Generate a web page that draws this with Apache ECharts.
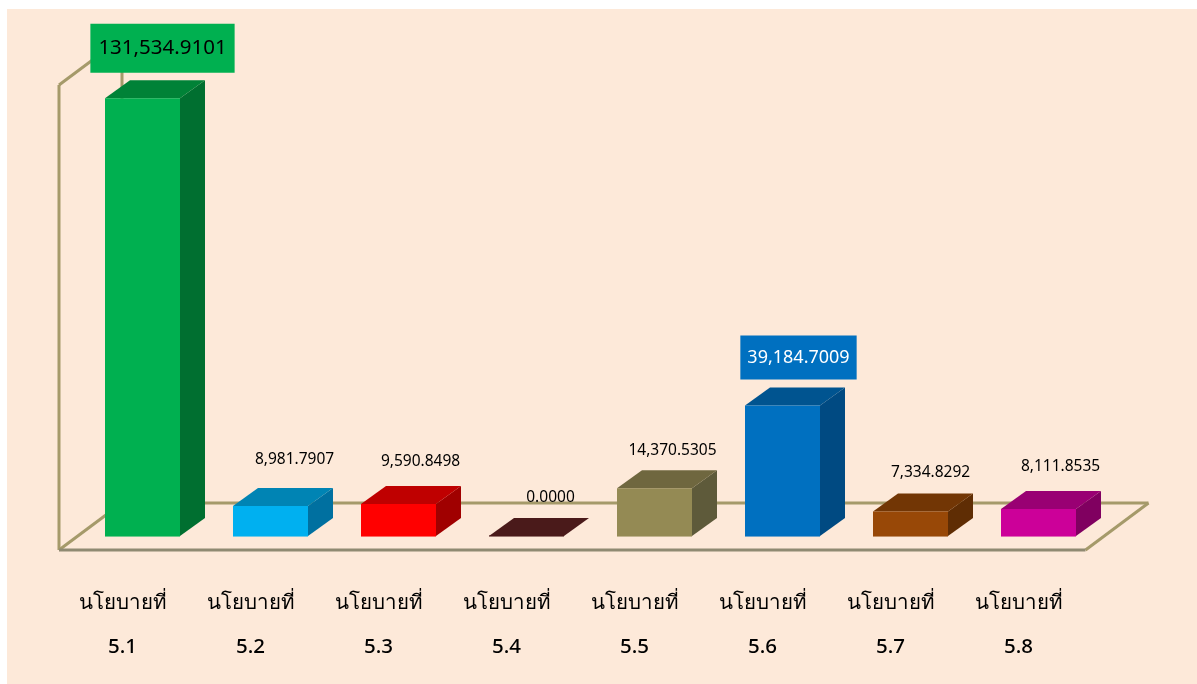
<!DOCTYPE html>
<html>
<head>
<meta charset="utf-8">
<title>chart</title>
<script src="https://cdn.jsdelivr.net/npm/echarts@6/dist/echarts.min.js"></script>
<style>
  html, body { margin: 0; padding: 0; background: #fff; }
  #main { width: 1197px; height: 684px; }
</style>
</head>
<body>
<div id="main"></div>
<script>
var categories = ['นโยบายที่\n5.1', 'นโยบายที่\n5.2', 'นโยบายที่\n5.3', 'นโยบายที่\n5.4',
  'นโยบายที่\n5.5', 'นโยบายที่\n5.6', 'นโยบายที่\n5.7', 'นโยบายที่\n5.8'];
var values = [131534.9101, 8981.7907, 9590.8498, 0, 14370.5305, 39184.7009, 7334.8292, 8111.8535];

// front, top, side
var frontColors = ['#00b050', '#00b0f0', '#ff0000', '#4a1a1a', '#948a54', '#0070c0', '#984807', '#cc0099'];
var topColors = ['#008237', '#0084b4', '#bf0000', '#4a1a1a', '#6f673f', '#005490', '#723605', '#990073'];
var sideColors = ['#006f30', '#0070a0', '#a00000', '#4a1a1a', '#5e5a3a', '#004a82', '#5f2d04', '#800060'];

// hand placed labels: x and y distance from the front face's top centre
var labelDx = [20, 24, 22, 24, 18, 16, 20, 22];
var labelDy = [-50, -47, -42, -38, -38, -48, -39, -42];
var labelBox = ['#00b050', null, null, null, null, '#0070c0', null, null];
var labelFill = ['#000', '#000', '#000', '#000', '#000', '#fff', '#000', '#000'];
var labelSize = [20.5, 15.5, 15.5, 15.5, 15.5, 18, 15.5, 15.5];
var labelPad = [[14, 8], 0, 0, 0, 0, [13, 7], 0, 0];

var FONT = '"Noto Sans", Tahoma, sans-serif';
var DEPTH_X = 25, DEPTH_Y = 18;

function fmt(v) {
  return v.toLocaleString('en-US', {minimumFractionDigits: 4, maximumFractionDigits: 4});
}

function renderFrame(params, api) {
  if (params.dataIndex !== 0) return;
  var cs = params.coordSys;
  var y0 = cs.y + cs.height + 14;
  var x0 = cs.x + 0.5;
  var x1 = cs.x + cs.width + 3;
  var dx = 63, dy = 47;
  var wallTop = cs.y + 15;
  var back = {stroke: '#a59a6a', lineWidth: 3, fill: null};
  function line(x1, y1, x2, y2, style) {
    return {type: 'line', shape: {x1: x1, y1: y1, x2: x2, y2: y2}, style: style};
  }
  return {
    type: 'group',
    children: [
      line(x0 + dx, y0 - dy, x1 + dx, y0 - dy, back),
      line(x0 + dx, y0 - dy, x0 + dx, wallTop - dy, back),
      line(x0, wallTop, x0 + dx, wallTop - dy, back),
      line(x0, y0, x0, wallTop, back),
      line(x0, y0, x0 + dx, y0 - dy, back),
      line(x1, y0, x1 + dx, y0 - dy, back),
      line(x0, y0, x1, y0, {stroke: '#8f8a72', lineWidth: 3, fill: null})
    ]
  };
}

function renderBar(params, api) {
  var i = params.dataIndex;
  var band = api.size([1, 0])[0];
  var w = band * 75 / 128;
  var base = api.coord([api.value(0), 0]);
  var top = api.coord([api.value(0), api.value(1)]);
  // bars sit to the right of their axis label in the source chart
  var cx = base[0] + band * 20 / 128;
  var l = cx - w / 2, r = cx + w / 2;
  var children = [
    {type: 'polygon', shape: {points: [[r, top[1]], [r + DEPTH_X, top[1] - DEPTH_Y], [r + DEPTH_X, base[1] - DEPTH_Y], [r, base[1]]]},
      style: {fill: sideColors[i]}},
    {type: 'polygon', shape: {points: [[l, top[1]], [l + DEPTH_X, top[1] - DEPTH_Y], [r + DEPTH_X, top[1] - DEPTH_Y], [r, top[1]]]},
      style: {fill: topColors[i]}},
    {type: 'rect', shape: {x: l, y: top[1], width: w, height: base[1] - top[1]},
      style: {fill: frontColors[i]}},
    {type: 'line', shape: {x1: l, y1: base[1], x2: r, y2: base[1]},
      style: {stroke: frontColors[i], lineWidth: 2, opacity: 0.55}},
    {type: 'text', z2: 10, style: {
      x: cx + labelDx[i], y: top[1] + labelDy[i],
      text: fmt(values[i]), align: 'center', verticalAlign: 'middle',
      fill: labelFill[i], font: labelSize[i] + 'px ' + FONT,
      backgroundColor: labelBox[i] || 'transparent',
      padding: labelPad[i]
    }}
  ];
  return {type: 'group', children: children};
}

var chart = echarts.init(document.getElementById('main'));
chart.setOption({
  animation: false,
  graphic: [{
    type: 'rect', z: -1, silent: true,
    shape: {x: 7, y: 9, width: 1190, height: 675},
    style: {fill: '#fde9d9'}
  }],
  grid: {left: 58.5, top: 70, width: 1024, height: 466},
  xAxis: {
    type: 'category',
    data: categories,
    axisLine: {show: false},
    axisTick: {show: false},
    axisLabel: {
      interval: 0, margin: 45, lineHeight: 44,
      color: '#000', fontSize: 20.5, fontWeight: 500, fontFamily: FONT
    }
  },
  yAxis: {type: 'value', min: 0, max: 140000, show: false, splitLine: {show: false}},
  series: [
    {type: 'custom', renderItem: renderFrame, data: values.map(function (v, i) { return [i, v]; }), z: 1, silent: true, clip: false},
    {type: 'custom', renderItem: renderBar, data: values.map(function (v, i) { return [i, v]; }), z: 2, silent: true, clip: false}
  ]
});
</script>
</body>
</html>
